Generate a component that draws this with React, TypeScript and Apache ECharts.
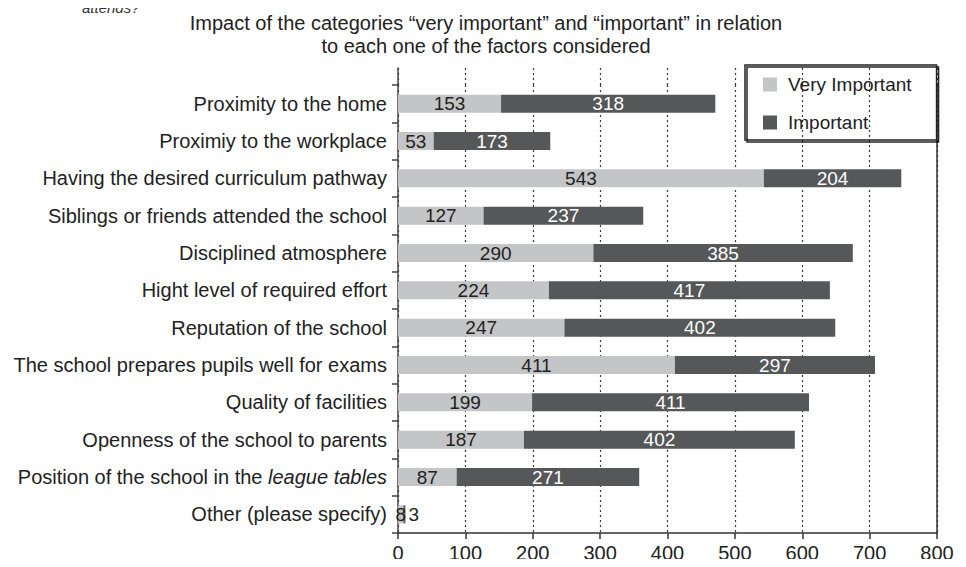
import React, { useEffect, useRef } from "react";
import * as echarts from "echarts";

const categories = [
  "Proximity to the home",
  "Proximiy to the workplace",
  "Having the desired curriculum pathway",
  "Siblings or friends attended the school",
  "Disciplined atmosphere",
  "Hight level of required effort",
  "Reputation of the school",
  "The school prepares pupils well for exams",
  "Quality of facilities",
  "Openness of the school to parents",
  "Position of the school in the league tables",
  "Other (please specify)",
];
const veryImportant = [153, 53, 543, 127, 290, 224, 247, 411, 199, 187, 87, 8];
const important = [318, 173, 204, 237, 385, 417, 402, 297, 411, 402, 271, 3];
const xTicks = [0, 100, 200, 300, 400, 500, 600, 700, 800];

const FONT = "'Liberation Sans', Arial, Helvetica, sans-serif";
const LIGHT = "#c4c5c7";
const DARK = "#565759";
const TEXT = "#222222";

export default function App() {
  const ref = useRef<HTMLDivElement>(null);
  useEffect(() => {
    if (!ref.current) return;
    const chart = echarts.init(ref.current, undefined, { renderer: "svg" });
    const last = categories.length - 1;
    chart.setOption({
      animation: false,
      backgroundColor: "#ffffff",
      textStyle: { fontFamily: FONT },
      title: {
        text: "Impact of the categories \u201cvery important\u201d and \u201cimportant\u201d in relation\nto each one of the factors considered",
        left: 481,
        textAlign: "center",
        top: 6,
        textStyle: {
          fontFamily: FONT,
          fontSize: 20,
          fontWeight: "normal",
          color: TEXT,
          lineHeight: 23,
        },
      },
      graphic: [
        {
          type: "text",
          x: 82,
          y: 0,
          style: {
            text: "attends?",
            font: "italic 15px " + FONT,
            fill: "#333",
            verticalAlign: "top",
          },
        },
      ],
      legend: {
        orient: "vertical",
        left: 745,
        top: 65,
        itemWidth: 14,
        itemHeight: 14,
        itemGap: 19,
        padding: [10, 25, 8, 18],
        borderColor: "#222",
        borderWidth: 1.5,
        shadowColor: "rgba(0,0,0,0.85)",
        shadowOffsetX: 2,
        shadowOffsetY: 2,
        shadowBlur: 0,
        icon: "rect",
        textStyle: {
          fontFamily: FONT,
          fontSize: 19,
          color: TEXT,
          padding: [0, 0, 0, 6],
        },
        data: ["Very Important", "Important"],
      },
      grid: [
        { left: 398, right: 29, top: 85, bottom: 34 },
        { left: 398, right: 29, top: 68, height: 17 },
      ],
      xAxis: [
        {
          type: "value",
          gridIndex: 0,
          min: 0,
          max: 800,
          interval: 100,
          axisLine: { show: true, lineStyle: { color: "#333", width: 1.5 } },
          axisTick: { show: true, length: 6, lineStyle: { color: "#333", width: 1.5 } },
          axisLabel: {
            fontFamily: FONT,
            fontSize: 20,
            color: TEXT,
            margin: 10,
            formatter: (v: number) => (xTicks.includes(v) ? String(v) : ""),
          },
          splitLine: {
            show: true,
            lineStyle: { color: "#3a3a3a", width: 1.2, type: [2, 3] },
          },
        },
        {
          type: "value",
          gridIndex: 1,
          min: 0,
          max: 800,
          interval: 100,
          axisLine: { show: false },
          axisTick: { show: false },
          axisLabel: { show: false },
          splitLine: {
            show: true,
            lineStyle: { color: "#3a3a3a", width: 1.2, type: [2, 3] },
          },
        },
      ],
      yAxis: [
        {
          type: "category",
          gridIndex: 0,
          inverse: true,
          data: categories,
          axisLine: { show: true, lineStyle: { color: "#444", width: 1.5 } },
          axisTick: { show: true, length: 6, lineStyle: { color: "#444", width: 1.5 } },
          axisLabel: {
            fontFamily: FONT,
            fontSize: 20,
            color: TEXT,
            margin: 11,
            formatter: (v: string) => {
              const k = v.indexOf("league tables");
              if (k >= 0) return "{n|" + v.slice(0, k) + "}{i|" + v.slice(k) + "}";
              return "{n|" + v + "}";
            },
            rich: {
              n: { fontFamily: FONT, fontSize: 20, color: TEXT },
              i: { fontFamily: FONT, fontSize: 20, color: TEXT, fontStyle: "italic" },
            },
          },
          splitLine: { show: false },
        },
        {
          type: "value",
          gridIndex: 0,
          position: "right",
          axisLine: { show: true, lineStyle: { color: "#333", width: 1.5 } },
          axisTick: { show: false },
          axisLabel: { show: false },
          splitLine: { show: false },
        },
        {
          type: "value",
          gridIndex: 1,
          axisLine: { show: true, lineStyle: { color: "#444", width: 1.5 } },
          axisTick: { show: false },
          axisLabel: { show: false },
          splitLine: { show: false },
        },
      ],
      series: [
        {
          name: "Very Important",
          type: "bar",
          stack: "total",
          xAxisIndex: 0,
          yAxisIndex: 0,
          barWidth: 18,
          itemStyle: { color: LIGHT },
          label: {
            show: true,
            position: "inside",
            fontFamily: FONT,
            fontSize: 19,
            color: TEXT,
          },
          data: veryImportant,
        },
        {
          name: "Important",
          type: "bar",
          stack: "total",
          xAxisIndex: 0,
          yAxisIndex: 0,
          barWidth: 18,
          itemStyle: { color: DARK },
          label: {
            show: true,
            position: "inside",
            fontFamily: FONT,
            fontSize: 19,
            color: "#ffffff",
          },
          data: important.map((v, i) =>
            i === last
              ? { value: v, label: { position: "right", distance: 3, color: TEXT } }
              : v
          ),
        },
      ],
    });
    return () => chart.dispose();
  }, []);
  return <div ref={ref} style={{ width: 966, height: 567, margin: -8 }} />;
}
